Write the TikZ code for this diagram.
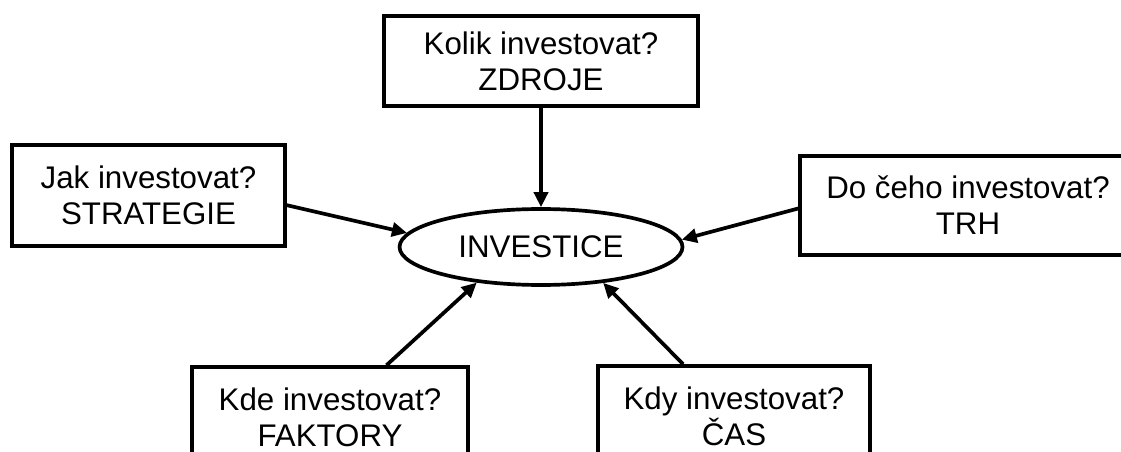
\documentclass[tikz,border=0pt]{standalone}
\usepackage{fontspec}
\setmainfont{Liberation Sans}
\usepackage{tikz}
\usetikzlibrary{arrows.meta,shapes.geometric}

\begin{document}
\begin{tikzpicture}[x=0.02cm, y=-0.02cm, >={Triangle[length=0.3cm,width=0.28cm]}]
    \tikzset{
        otazka/.style={
            draw=black,
            rectangle,
            line width=2pt,
            align=center,
            inner sep=0pt,
            font=\fontsize{17.8}{20.5}\selectfont
        },
        stred/.style={
            draw=black,
            ellipse,
            line width=2.1pt,
            inner sep=0pt,
            minimum width=5.66cm,
            minimum height=1.52cm,
            font=\fontsize{17.8}{20.5}\selectfont
        },
        sipka/.style={
            ->,
            draw=black,
            line width=2.1pt
        }
    }

    % Vyrez obrazku
    \useasboundingbox (0,0) rectangle (1121,452);
    \clip (0,0) rectangle (1121,452);

    % Uzly
    \node[stred] (investice) at (541,247) {INVESTICE};
    \node[otazka, minimum width=6.28cm, minimum height=1.8cm]  (zdroje)    at (541,61)    {Kolik investovat?\\ZDROJE};
    \node[otazka, minimum width=5.46cm, minimum height=2.02cm] (strategie) at (148.5,195.5) {Jak investovat?\\STRATEGIE};
    \node[otazka, minimum width=6.72cm, minimum height=1.98cm] (trh)       at (968,205.5) {Do čeho investovat?\\TRH};
    \node[otazka, minimum width=5.52cm, minimum height=2.0cm]  (faktory)   at (330,417)   {Kde investovat?\\FAKTORY};
    \node[otazka, minimum width=5.44cm, minimum height=2.0cm]  (cas)       at (734,416)   {Kdy investovat?\\ČAS};

    % Sipky
    \draw[sipka] (zdroje.south)   -- (investice.north);
    \draw[sipka] (strategie.-4)   -- (investice.174);
    \draw[sipka] (trh.181)        -- (investice.3);
    \draw[sipka] (faktory)        -- (investice.209);
    \draw[sipka] (cas)            -- (investice.330);
\end{tikzpicture}
\end{document}
